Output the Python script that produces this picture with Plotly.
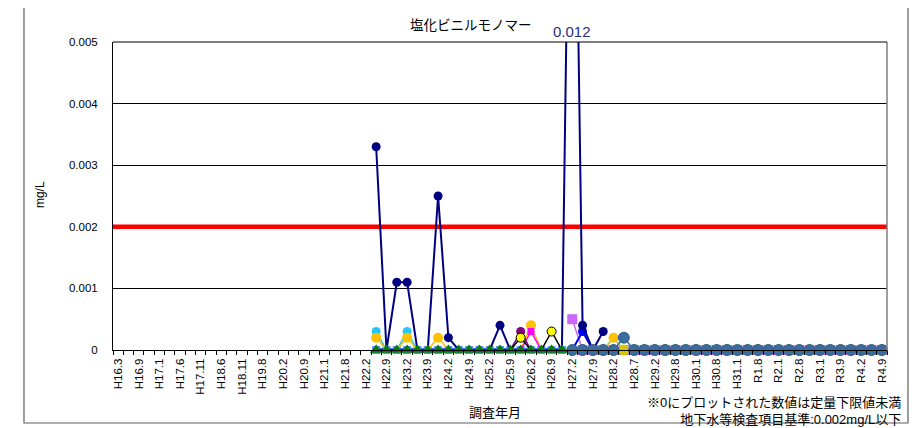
import plotly.graph_objects as go

N = None

# ---- category tick labels (every other survey is labelled) ----
tick_labels = ["H16.3", "H16.9", "H17.1", "H17.6", "H17.11", "H18.6", "H18.11", "H19.8",
               "H20.2", "H20.9", "H21.1", "H21.8", "H22.2", "H22.9", "H23.2", "H23.9",
               "H24.2", "H24.9", "H25.2", "H25.9", "H26.2", "H26.9", "H27.2", "H27.9",
               "H28.2", "H28.7", "H29.2", "H29.8", "H30.1", "H30.8", "H31.1", "R1.8",
               "R2.1", "R2.8", "R3.1", "R3.9", "R4.2", "R4.9"]
n_cat = 75
pre = [N] * 25   # no measurements before H22 (index 25)

# ---- series values (mg/L), index 25..74 ----
navy = pre + [0.0033, 0, 0.0011, 0.0011, 0, 0, 0.0025, 0.0002, 0, 0,
              0, 0, 0.0004, 0, 0, 0, 0, 0, 0, 0.012,
              0.0004, 0, 0.0003, N, N, N, N, N, N, N,
              N, N, N, N, N, N, N, N, N, N,
              N, N, N, N, N, N, N, N, N, N]
cyan = pre + [0.0003, 0, 0, 0.0003, 0, 0, 0, 0, 0, 0,
              0, 0, 0, 0, 0, 0, 0, 0, 0, 0,
              0, 0, 0, 0.0002, 0, N, N, N, N, N,
              N, N, N, N, N, N, N, N, N, N,
              N, N, N, N, N, N, N, N, N, N]
gold = pre + [0.0002, 0, 0, 0.0002, 0, 0, 0.0002, 0, 0, 0,
              0, 0, 0, 0, 0, 0.0004, 0, 0, 0, 0,
              0, 0, 0, 0.0002, 0, N, N, N, N, N,
              N, N, N, N, N, N, N, N, N, N,
              N, N, N, N, N, N, N, N, N, N]
magenta = pre + [0, 0, 0, 0, 0, 0, 0, 0, 0, 0,
                 0, 0, 0, 0, 0, 0.0003, 0, 0, 0] + [N] * 31
purple = pre + [0, 0, 0, 0, 0, 0, 0, 0, 0, 0,
                0, 0, 0, 0, 0.0003, 0, 0, 0, 0] + [N] * 31
yellow = pre + [0, 0, 0, 0, 0, 0, 0, 0, 0, 0,
                0, 0, 0, 0, 0.0002, 0, 0, 0.0003, 0] + [N] * 31
royal = pre + [0, 0, 0, 0, 0, 0, 0, 0, 0, 0,
               0, 0, 0, 0, 0, 0, 0, 0, 0] + [N] * 31
green = pre + [0, 0, 0, 0, 0, 0, 0, 0, 0, 0,
               0, 0, 0, 0, 0, 0, 0, 0, 0] + [N] * 31
post = [N] * 44
violet = post + [0.0005, 0, 0, 0, 0, 0, 0, 0, 0, 0,
                 0, 0, 0, 0, 0, 0, 0, 0, 0, 0,
                 0, 0, 0, 0, 0, 0, 0, 0, 0, 0, 0]
blue = post + [0, 0.0003, 0, 0, 0, 0, 0, 0, 0, 0,
               0, 0, 0, 0, 0, 0, 0, 0, 0, 0,
               0, 0, 0, 0, 0, 0, 0, 0, 0, 0, 0]
olive = post + [0, 0, 0, 0, 0, 0, 0, 0, 0, 0,
                0, 0, 0, 0, 0, 0, 0, 0, 0, 0,
                0, 0, 0, 0, 0, 0, 0, 0, 0, 0, 0]
steel = post + [0, 0, 0, 0, 0, 0.0002, 0, 0, 0, 0,
                0, 0, 0, 0, 0, 0, 0, 0, 0, 0,
                0, 0, 0, 0, 0, 0, 0, 0, 0, 0, 0]

standard = 0.002
y_ticks = [0, 0.001, 0.002, 0.003, 0.004, 0.005]
y_tick_text = ["0", "0.001", "0.002", "0.003", "0.004", "0.005"]
peak_label = "0.012"

x = list(range(n_cat))
FONT = "Liberation Sans, Arial, Noto Sans CJK JP, sans-serif"

fig = go.Figure()

# standard line
fig.add_trace(go.Scatter(x=[-0.5, n_cat - 0.5], y=[standard, standard], mode="lines",
                         line=dict(color="#FF0000", width=4.5), hoverinfo="skip"))


def series(y, color, symbol="circle", size=9, lw=2, mcolor=None, mline=None, clip=False,
           hide_zero=False):
    sizes = [0 if (hide_zero and v == 0) else size for v in y]
    fig.add_trace(go.Scatter(
        x=x, y=y, mode="lines+markers", cliponaxis=clip, connectgaps=False,
        line=dict(color=color, width=lw),
        marker=dict(symbol=symbol, size=sizes, color=mcolor or color, opacity=1,
                    line=dict(color=mline or (mcolor or color), width=1 if mline else 0))))


series(royal, "#3366FF", symbol="square", size=8, lw=4, mcolor="#5B8CFF")
series(violet, "#CC66FF", symbol="square", size=10, lw=1.5)
series(cyan, "#22C8F5", size=9, lw=1.5, hide_zero=True)
series(gold, "#FFC000", size=10, lw=1.5, hide_zero=True)
series(magenta, "#FF00FF", symbol="square", size=7, lw=1.5, hide_zero=True)
series(purple, "#800080", size=9, lw=1.5, hide_zero=True)
series(yellow, "#000000", size=9, lw=1.5, mcolor="#FFFF00", mline="#000000", hide_zero=True)
series(blue, "#0000FF", size=9, lw=2)
series(navy, "#000080", size=9, lw=2, clip=True, hide_zero=True)
series(olive, "#D2C800", size=11, lw=1)
series(steel, "#3A6D9C", size=11, lw=1.5, mline="#2F5F8C")
series(green, "#008000", symbol="triangle-up", size=11, lw=1)

tickvals = [2 * i for i in range(len(tick_labels))]


def note(text, xp, yp, size, **kw):
    d = dict(text=text, xref="paper", yref="paper", x=xp, y=yp, showarrow=False,
             xanchor="center", yanchor="middle", font=dict(size=size))
    d.update(kw)
    return d


fig.update_layout(
    width=914, height=420,
    margin=dict(l=105, r=35, t=34, b=78),
    paper_bgcolor="white", plot_bgcolor="white",
    showlegend=False,
    font=dict(family=FONT, size=12, color="black"),
    xaxis=dict(range=[-0.5, n_cat - 0.5], tickmode="array", tickvals=tickvals,
               ticktext=tick_labels, tickangle=-90, tickfont=dict(size=11.5),
               ticks="outside", ticklen=3, tickcolor="rgba(0,0,0,0)",
               showline=True, linecolor="black", linewidth=1,
               showgrid=False, zeroline=False,
               minor=dict(tickmode="linear", tick0=-0.5, dtick=1, ticks="outside",
                          ticklen=4, tickcolor="black", showgrid=False)),
    yaxis=dict(range=[0, 0.005], tickmode="array", tickvals=y_ticks, ticktext=y_tick_text,
               tickfont=dict(size=11.5), showgrid=True, gridcolor="#000000", gridwidth=1,
               showline=True, linecolor="black", linewidth=1, zeroline=False,
               ticks="", ticklabelstandoff=12),
    shapes=[
        dict(type="line", xref="paper", yref="paper", x0=1, x1=1, y0=0, y1=1,
             line=dict(color="#808080", width=1.5)),
        dict(type="line", xref="paper", yref="paper", x0=0, x1=1, y0=1, y1=1,
             line=dict(color="#000000", width=1)),
        dict(type="rect", xref="paper", yref="paper", x0=-0.115, x1=1.0271,
             y0=-0.237, y1=1.1201, line=dict(color="#606060", width=1.2)),
    ],
    annotations=[
        note("塩化ビニルモノマー", 0.4625, 1.055, 13.5),
        dict(text=peak_label, xref="x", yref="paper", x=44, y=1.0357, showarrow=False,
             xanchor="center", yanchor="middle", font=dict(size=15, color="#1F2F80")),
        note("mg/L", -0.0943, 0.503, 12, textangle=-90),
        note("調査年月", 0.4935, -0.2013, 13),
        note("※0にプロットされた数値は定量下限値未満<br>地下水等検査項目基準:0.002mg/L以下",
             1.0207, -0.197, 13, xanchor="right", align="right"),
    ],
)

fig.write_html("out.html")
